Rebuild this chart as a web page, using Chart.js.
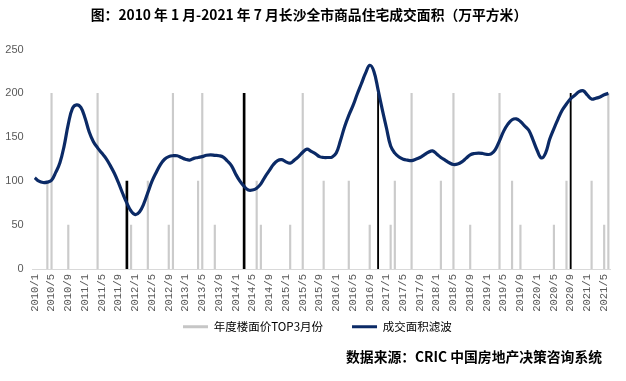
<!DOCTYPE html>
<html><head><meta charset="utf-8">
<script src="https://cdn.jsdelivr.net/npm/chart.js@4.4.0/dist/chart.umd.min.js"></script>
<style>html,body{margin:0;padding:0;background:#fff;}#wrap{position:relative;width:626px;height:381px;}</style>
</head><body><div id="wrap"><canvas id="c" width="626" height="381"></canvas></div>
<script>
const titleText = "图：2010 年 1 月-2021 年 7 月长沙全市商品住宅成交面积（万平方米）";
const sourceText = "数据来源：CRIC 中国房地产决策咨询系统";
const legendGray = "年度楼面价TOP3月份";
const legendLine = "成交面积滤波";

const startYear = 2010, monthCount = 138;
const categories = [];
for (let k = 0; k < monthCount; k++) {
  categories.push((startYear + Math.floor(k / 12)) + "/" + (k % 12 + 1));
}
const yMin = 0, yMax = 250, yStep = 50;

// smoothed monthly transaction area (万平方米), 2010/1 .. 2021/6
const areaValues = [
  104, 100, 98.5, 99, 101, 110, 121, 140, 165, 183, 187, 184,
  172, 156, 145, 138, 132, 126, 118, 109, 98, 86, 75, 66,
  62, 65, 74, 87, 100, 110, 119, 125, 128, 129, 129, 127,
  125, 124, 126, 127, 128, 129.5, 130, 129.5, 129, 127.5, 123, 117.5,
  108, 100, 94, 90, 90, 92, 97, 105, 112, 119, 123.5, 124.5,
  122, 120.6, 124, 128, 133, 136.5, 134, 131.5, 128, 127, 127, 127.5,
  132, 146, 162, 175, 186, 199, 211, 223, 232, 225, 204, 181.5,
  160.6, 140, 132, 127.5, 125, 124, 123.5, 125, 127, 130, 133, 134.5,
  131, 127, 124, 121, 119, 119.5, 122, 126, 130, 131.5, 132, 131.5,
  130.5, 131, 136, 146, 157, 165, 170, 171, 168, 163, 158, 147,
  135, 126.5, 132, 148, 160, 171, 181, 188, 194, 198, 202, 203,
  198, 193.5, 194.5, 196, 198.5, 200
];

// yearly TOP3 land-price months (gray marks)
const topMonths = ["2010/4","2010/5","2010/9","2011/4","2011/12","2012/4","2012/9","2012/10",
  "2013/4","2013/5","2013/8","2014/6","2014/7","2015/2","2015/5","2015/10","2016/4","2016/9",
  "2017/2","2017/3","2017/7","2018/2","2018/5","2018/9","2019/4","2019/7","2019/9",
  "2020/5","2020/8","2021/2","2021/5","2021/6"];
const topHeights = [100,200,50,200,50,100,50,200,100,200,50,100,50,50,200,100,100,50,
  50,100,200,100,200,50,200,100,50,50,100,100,50,200];
// highlighted months (black marks)
const markMonthsThick = ["2011/11","2014/3"];
const markHeightsThick = [100,200];
const markMonthsThin = ["2016/11","2020/9"];
const markHeightsThin = [200,200];

const toXY = (ms, hs) => ms.map((m, i) => ({x: m, y: hs[i]}));

const CJK = "'Noto Sans CJK SC', 'Noto Sans', sans-serif";
const LEG_X = 183, LEG_Y = 327;

const extras = {
  id: 'extras',
  afterLayout(chart) {
    const lg = chart.legend;
    if (!lg || !lg.lineWidths) return;
    const pad = lg.options.labels.padding;
    const start = (lg.left + pad + lg.right - lg.lineWidths[0]) / 2;
    const d = LEG_X - start;
    lg.left += d; lg.right += d;
    const h = lg.bottom - lg.top;
    const itemH = lg._itemHeight || 12;
    lg.top = LEG_Y - pad - itemH / 2;
    lg.bottom = lg.top + h;
  },
  afterDraw(chart) {
    const ctx = chart.ctx;
    ctx.save();
    ctx.fillStyle = "#000";
    ctx.textBaseline = "middle";
    ctx.font = "bold 13.8px " + CJK;
    ctx.textAlign = "center";
    ctx.fillText(titleText, 309, 15);
    ctx.font = "bold 13.8px " + CJK;
    ctx.textAlign = "right";
    ctx.fillText(sourceText, 602, 357);
    ctx.restore();
  }
};

new Chart(document.getElementById('c'), {
  type: 'bar',
  data: {
    labels: categories,
    datasets: [
      { type: 'bar', label: legendGray, data: toXY(topMonths, topHeights), backgroundColor: '#cbcbcb',
        barThickness: 1.5, grouped: false, order: 2 },
      { type: 'line', label: legendLine, data: areaValues, borderColor: '#0b2a66', backgroundColor: '#0b2a66',
        borderWidth: 3.2, pointRadius: 0, tension: 0.4, fill: false, order: 0 },
      { type: 'bar', label: 'mark1', data: toXY(markMonthsThick, markHeightsThick), backgroundColor: '#000',
        barThickness: 2, grouped: false, order: 1 },
      { type: 'bar', label: 'mark2', data: toXY(markMonthsThin, markHeightsThin), backgroundColor: '#000',
        barThickness: 1.2, grouped: false, order: 1 }
    ]
  },
  options: {
    responsive: false, animation: false, devicePixelRatio: 1,
    layout: { padding: { left: 0, right: 11.6, top: 49.5, bottom: 13 } },
    plugins: {
      tooltip: { enabled: false },
      title: { display: false },
      legend: {
        position: 'bottom',
        labels: {
          boxWidth: 25, boxHeight: 3, padding: 29, color: '#333',
          font: { family: CJK, size: 11.5 },
          filter: (item) => item.datasetIndex < 2,
          generateLabels(chart) {
            return chart.data.datasets.map((ds, i) => ({
              text: ds.label, fillStyle: i === 0 ? '#c6c6c6' : '#0b2a66',
              strokeStyle: 'rgba(0,0,0,0)', lineWidth: 0, datasetIndex: i, hidden: false
            }));
          }
        }
      }
    },
    scales: {
      x: {
        type: 'category', offset: true,
        grid: { display: false, drawTicks: false },
        border: { display: true, color: '#d9d9d9', width: 1 },
        ticks: {
          autoSkip: false, minRotation: 90, maxRotation: 90, padding: 5,
          color: '#595959', font: { family: "'Liberation Mono', monospace", size: 10.5 },
          callback: (v, i) => (i % 4 === 0 ? categories[i] : '')
        },
        afterFit: (s) => { s.height = 381 - 13 - 269 - s.chart.legend.height; }
      },
      y: {
        min: yMin, max: yMax,
        grid: { display: false, drawTicks: false },
        border: { display: false },
        ticks: { stepSize: yStep, padding: 9, color: '#595959',
          font: { family: "'Liberation Sans', Arial, sans-serif", size: 11 } },
        afterFit: (s) => { s.width = 32.7; }
      }
    }
  },
  plugins: [extras]
});
</script>
</body></html>
